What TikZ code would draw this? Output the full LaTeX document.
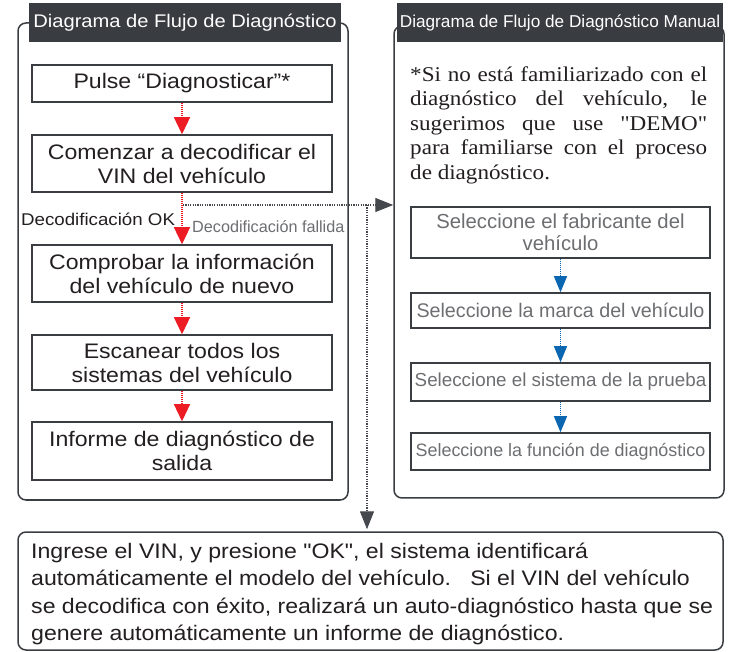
\documentclass[tikz,border=0pt]{standalone}
\usepackage{fontspec}
\setmainfont{Liberation Sans}[FakeStretch=1.1, Ligatures=TeXOff]
\newfontfamily\narrowsans{Liberation Sans}[Ligatures=TeXOff]
\newfontfamily\serifz{Liberation Serif}[FakeStretch=1.1, Ligatures=TeXOff]
\usetikzlibrary{arrows.meta}
\definecolor{frame}{HTML}{3A3D42}
\definecolor{barc}{HTML}{393C41}
\definecolor{redc}{HTML}{ED1C24}
\definecolor{bluec}{HTML}{0B66B2}
\definecolor{greytxt}{HTML}{6D6E71}
\definecolor{conn}{HTML}{45484D}
\definecolor{inkc}{HTML}{231F20}
\begin{document}
\begin{tikzpicture}[x=1pt,y=-1pt,
  panel/.style={draw=frame, line width=1.5pt, rounded corners=8pt, inner sep=0pt, fill=white},
  titlebar/.style={fill=barc, text=white, inner sep=0pt, minimum height=39pt},
  stepbox/.style={draw=frame, line width=1.5pt, inner sep=0pt, minimum width=300pt, align=center, text=inkc,
     font=\fontsize{21}{24}\selectfont},
  selbox/.style={draw=frame, line width=1.5pt, inner sep=0pt, minimum width=299pt, align=center, text=greytxt},
  redflow/.style={draw=redc, line width=1.2pt, dash pattern=on 1pt off 1pt, -{Triangle[width=16pt,length=17pt]}},
  blueflow/.style={draw=bluec, line width=1.2pt, dash pattern=on 1pt off 1pt, -{Triangle[width=13pt,length=16pt]}},
  grayflow/.style={draw=conn, line width=1.2pt, dash pattern=on 1.2pt off 1.2pt, -{Triangle[width=14pt,length=18pt]}}
]
\fill[white] (0,0) rectangle (729,652);
\useasboundingbox (0,0) rectangle (729,652);

% panels
\node[panel, minimum width=330pt, minimum height=477pt] (lp) at (183,261.5) {};
\node[panel, minimum width=330pt, minimum height=472pt] (rp) at (559,262) {};
\node[titlebar, minimum width=312pt, font=\fontsize{18.3}{20}\selectfont] (lt) at (185,22.5) {Diagrama de Flujo de Diagnóstico};
\node[titlebar, minimum width=326pt, font=\narrowsans\fontsize{17.2}{20}\selectfont] (rt) at (560,22.5) {Diagrama de Flujo de Diagnóstico Manual};

% left steps
\node[stepbox, minimum height=37pt] (p1) at (182,83.5) {Pulse “Diagnosticar”*};
\node[stepbox, minimum height=57pt] (p2) at (182,163.5) {Comenzar a decodificar el\\VIN del vehículo};
\node[stepbox, minimum height=57pt] (p3) at (182,273.5) {Comprobar la información\\del vehículo de nuevo};
\node[stepbox, minimum height=55pt] (p4) at (182,362.5) {Escanear todos los\\sistemas del vehículo};
\node[stepbox, minimum height=58pt] (p5) at (182,451) {Informe de diagnóstico de\\salida};

\draw[redflow] (p1.south) -- (p2.north);
\draw[redflow] (p2.south) -- (p3.north);
\draw[redflow] (p3.south) -- (p4.north);
\draw[redflow] (p4.south) -- (p5.north);

\node[anchor=west, inner sep=0pt, text=inkc, font=\fontsize{17}{20}\selectfont] (okl) at (21,219) {Decodificación OK};
\node[anchor=west, inner sep=0pt, text=greytxt, font=\narrowsans\fontsize{16.2}{20}\selectfont] (fail) at (192,226.5) {Decodificación fallida};

% right panel text
\node[anchor=north west, inner sep=0pt, text width=297pt, align=justify, text=inkc,
  font=\serifz\fontsize{21}{24.5}\selectfont] (note) at (410,66.5)
  {*Si no está familiarizado con el\linebreak diagnóstico del vehículo, le\linebreak sugerimos que use "DEMO"\linebreak para familiarse con el proceso\linebreak de diagnóstico.};

\node[selbox, minimum height=51pt, font=\narrowsans\fontsize{20.3}{22}\selectfont] (r1) at (560.5,232.5) {Seleccione el fabricante del\\vehículo};
\node[selbox, minimum height=35pt, font=\narrowsans\fontsize{19.7}{22}\selectfont] (r2) at (560.5,310.5) {Seleccione la marca del vehículo};
\node[selbox, minimum height=38pt, font=\narrowsans\fontsize{18.8}{22}\selectfont] (r3) at (560.5,382) {Seleccione el sistema de la prueba};
\node[selbox, minimum height=37pt, font=\narrowsans\fontsize{17.9}{22}\selectfont] (r4) at (560.5,451.5) {Seleccione la función de diagnóstico};

\draw[blueflow] (r1.south) -- (r2.north);
\draw[blueflow] (r2.south) -- (r3.north);
\draw[blueflow] (r3.south) -- (r4.north);

% bottom box
\node[panel, minimum width=705pt, minimum height=118pt] (bb) at (370.5,591) {};
\node[anchor=north west, inner sep=0pt, align=left, text=inkc, font=\fontsize{21}{27.3}\selectfont] (btxt) at (31,543)
  {Ingrese el VIN, y presione "OK", el sistema identificará\\
   automáticamente el modelo del vehículo.~~~Si el VIN del vehículo\\
   se decodifica con éxito, realizará un auto-diagnóstico hasta que se\\
   genere automáticamente un informe de diagnóstico.};

% failure connectors
\coordinate (split) at (183,205);
\coordinate (branch) at (367,205);
\draw[grayflow] (split) -- (split -| rp.west);
\draw[grayflow, shorten >=2pt] (branch) -- (branch |- bb.north);
\end{tikzpicture}
\end{document}
